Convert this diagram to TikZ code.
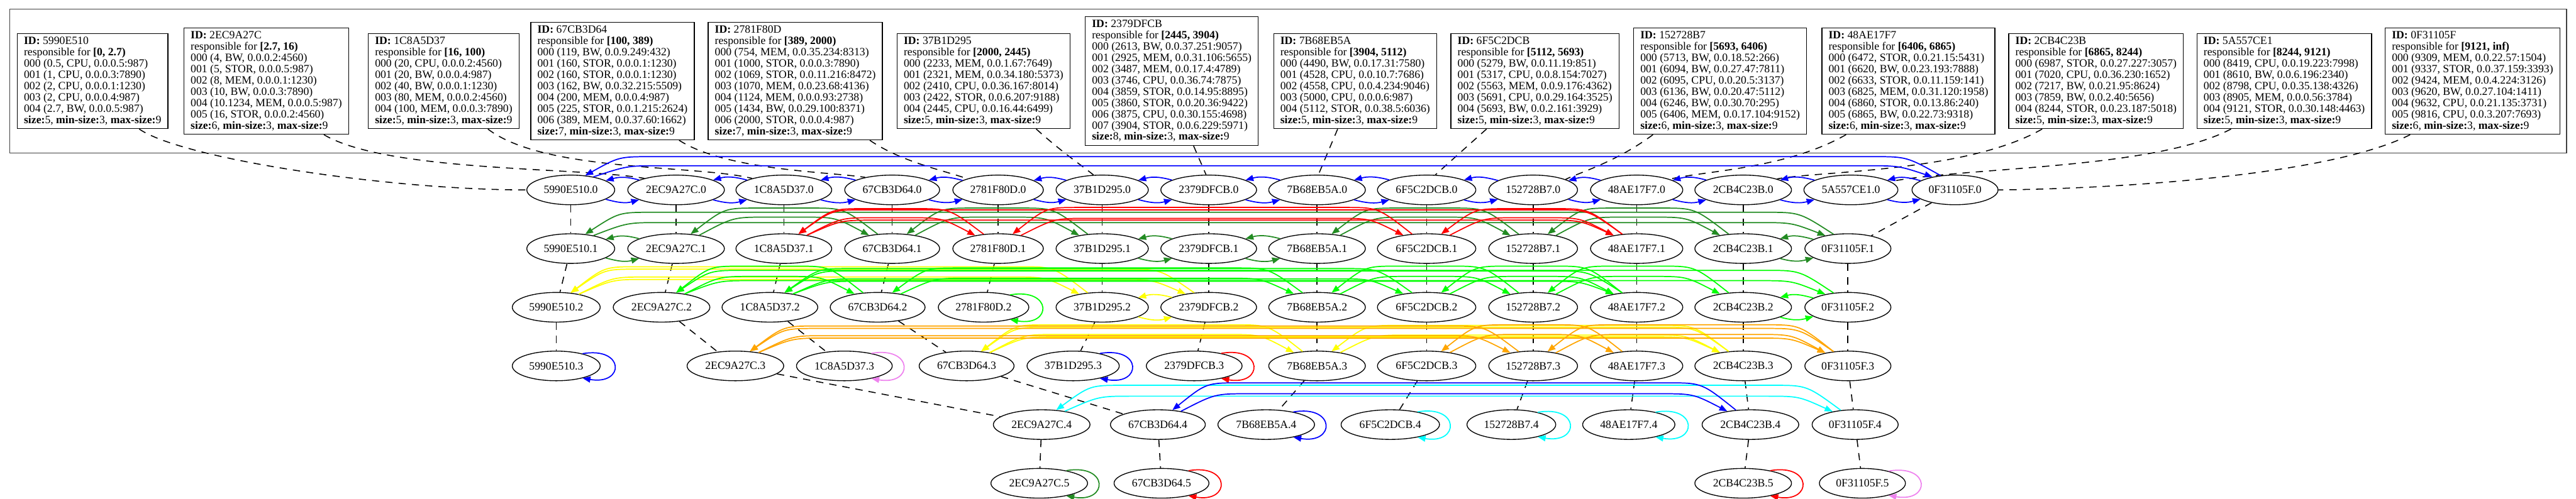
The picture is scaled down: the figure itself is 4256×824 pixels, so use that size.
\documentclass[tikz,border=0pt]{standalone}
\usepackage{fontspec}
\setmainfont{Liberation Serif}
\usetikzlibrary{shapes.geometric,arrows.meta,calc}
\definecolor{cblue}{RGB}{0,0,255}
\definecolor{cred}{RGB}{255,0,0}
\definecolor{cfg}{RGB}{34,139,34}
\definecolor{clime}{RGB}{0,255,0}
\definecolor{cyel}{RGB}{255,255,0}
\definecolor{corange}{RGB}{255,165,0}
\definecolor{ccyan}{RGB}{0,255,255}
\definecolor{cviolet}{RGB}{238,130,238}
\newcommand\gfont{\fontsize{9.2pt}{9.3pt}\selectfont}
\newcommand\hdr[2]{\textbf{ID:} #1\\responsible for \textbf{#2}}
\newcommand\szl[1]{\textbf{size:}#1, \textbf{min-size:}3, \textbf{max-size:}9}
\newcommand\adjpair[3]{%
  \draw[arr,#1] (#2.-15) .. controls +(22,6) and +(-22,6) .. (#3.-165);
  \draw[arr,#1] (#3.165) .. controls +(-22,-6) and +(22,-6) .. (#2.15);}
\newcommand\skp[5]{%
  \draw[arr,#1] let \p1=(#3.135), \p2=(#2.45) in
    (\p1) .. controls (\x1-28pt,{-0.5pt*#4}) .. (\x1-56pt,{-0.5pt*#4})
    -- (\x2+56pt,{-0.5pt*#4}) .. controls (\x2+28pt,{-0.5pt*#4}) .. (\p2);
  \draw[arr,#1] let \p1=(#2.30), \p2=(#3.150) in
    (\p1) .. controls (\x1+28pt,{-0.5pt*#5}) .. (\x1+56pt,{-0.5pt*#5})
    -- (\x2-56pt,{-0.5pt*#5}) .. controls (\x2-28pt,{-0.5pt*#5}) .. (\p2);}
\newcommand\sloop[2]{\draw[arr,#1] (#2.25) .. controls +(70,-12) and +(70,12) .. (#2.-25);}
\begin{document}
\begin{tikzpicture}[x=0.5pt,y=-0.5pt,
  idbox/.style={draw, line width=0.7pt, rectangle, align=left, inner xsep=5.5pt, inner ysep=3pt, font=\gfont},
  gn/.style={draw, line width=0.7pt, ellipse, inner xsep=3.3pt, inner ysep=2pt, minimum height=24.5pt, font=\gfont},
  arr/.style={-{Triangle[length=6.5pt,width=5pt]}, line width=0.9pt},
  dl/.style={line width=0.8pt, dash pattern=on 6pt off 5pt}]
\useasboundingbox (0,0) rectangle (4256,824);
\draw[line width=0.9pt, black!75] (16,15) rectangle (4240,253);

% ---------- ID boxes ----------
\node[idbox] (b1) at (153,134) {\hdr{5990E510}{[0, 2.7)}\\
000 (0.5, CPU, 0.0.0.5:987)\\ 001 (1, CPU, 0.0.0.3:7890)\\ 002 (2, CPU, 0.0.0.1:1230)\\
003 (2, CPU, 0.0.0.4:987)\\ 004 (2.7, BW, 0.0.0.5:987)\\ \szl{5}};
\node[idbox] (b2) at (440,134) {\hdr{2EC9A27C}{[2.7, 16)}\\
000 (4, BW, 0.0.0.2:4560)\\ 001 (5, STOR, 0.0.0.5:987)\\ 002 (8, MEM, 0.0.0.1:1230)\\
003 (10, BW, 0.0.0.3:7890)\\ 004 (10.1234, MEM, 0.0.0.5:987)\\ 005 (16, STOR, 0.0.0.2:4560)\\ \szl{6}};
\node[idbox] (b3) at (733,134) {\hdr{1C8A5D37}{[16, 100)}\\
000 (20, CPU, 0.0.0.2:4560)\\ 001 (20, BW, 0.0.0.4:987)\\ 002 (40, BW, 0.0.0.1:1230)\\
003 (80, MEM, 0.0.0.2:4560)\\ 004 (100, MEM, 0.0.0.3:7890)\\ \szl{5}};
\node[idbox] (b4) at (1012,134) {\hdr{67CB3D64}{[100, 389)}\\
000 (119, BW, 0.0.9.249:432)\\ 001 (160, STOR, 0.0.0.1:1230)\\ 002 (160, STOR, 0.0.0.1:1230)\\
003 (162, BW, 0.0.32.215:5509)\\ 004 (200, MEM, 0.0.0.4:987)\\ 005 (225, STOR, 0.0.1.215:2624)\\
006 (389, MEM, 0.0.37.60:1662)\\ \szl{7}};
\node[idbox] (b5) at (1314,134) {\hdr{2781F80D}{[389, 2000)}\\
000 (754, MEM, 0.0.35.234:8313)\\ 001 (1000, STOR, 0.0.0.3:7890)\\ 002 (1069, STOR, 0.0.11.216:8472)\\
003 (1070, MEM, 0.0.23.68:4136)\\ 004 (1124, MEM, 0.0.0.93:2738)\\ 005 (1434, BW, 0.0.29.100:8371)\\
006 (2000, STOR, 0.0.0.4:987)\\ \szl{7}};
\node[idbox] (b6) at (1625,134) {\hdr{37B1D295}{[2000, 2445)}\\
000 (2233, MEM, 0.0.1.67:7649)\\ 001 (2321, MEM, 0.0.34.180:5373)\\ 002 (2410, CPU, 0.0.36.167:8014)\\
003 (2422, STOR, 0.0.6.207:9188)\\ 004 (2445, CPU, 0.0.16.44:6499)\\ \szl{5}};
\node[idbox] (b7) at (1936,134) {\hdr{2379DFCB}{[2445, 3904)}\\
000 (2613, BW, 0.0.37.251:9057)\\ 001 (2925, MEM, 0.0.31.106:5655)\\ 002 (3487, MEM, 0.0.17.4:4789)\\
003 (3746, CPU, 0.0.36.74:7875)\\ 004 (3859, STOR, 0.0.14.95:8895)\\ 005 (3860, STOR, 0.0.20.36:9422)\\
006 (3875, CPU, 0.0.30.155:4698)\\ 007 (3904, STOR, 0.0.6.229:5971)\\ \szl{8}};
\node[idbox] (b8) at (2239,134) {\hdr{7B68EB5A}{[3904, 5112)}\\
000 (4490, BW, 0.0.17.31:7580)\\ 001 (4528, CPU, 0.0.10.7:7686)\\ 002 (4558, CPU, 0.0.4.234:9046)\\
003 (5000, CPU, 0.0.0.6:987)\\ 004 (5112, STOR, 0.0.38.5:6036)\\ \szl{5}};
\node[idbox] (b9) at (2536,134) {\hdr{6F5C2DCB}{[5112, 5693)}\\
000 (5279, BW, 0.0.11.19:851)\\ 001 (5317, CPU, 0.0.8.154:7027)\\ 002 (5563, MEM, 0.0.9.176:4362)\\
003 (5691, CPU, 0.0.29.164:3525)\\ 004 (5693, BW, 0.0.2.161:3929)\\ \szl{5}};
\node[idbox] (b10) at (2842,134) {\hdr{152728B7}{[5693, 6406)}\\
000 (5713, BW, 0.0.18.52:266)\\ 001 (6094, BW, 0.0.27.47:7811)\\ 002 (6095, CPU, 0.0.20.5:3137)\\
003 (6136, BW, 0.0.20.47:5112)\\ 004 (6246, BW, 0.0.30.70:295)\\ 005 (6406, MEM, 0.0.17.104:9152)\\ \szl{6}};
\node[idbox] (b11) at (3153,134) {\hdr{48AE17F7}{[6406, 6865)}\\
000 (6472, STOR, 0.0.21.15:5431)\\ 001 (6620, BW, 0.0.23.193:7888)\\ 002 (6633, STOR, 0.0.11.159:141)\\
003 (6825, MEM, 0.0.31.120:1958)\\ 004 (6860, STOR, 0.0.13.86:240)\\ 005 (6865, BW, 0.0.22.73:9318)\\ \szl{6}};
\node[idbox] (b12) at (3463,134) {\hdr{2CB4C23B}{[6865, 8244)}\\
000 (6987, STOR, 0.0.27.227:3057)\\ 001 (7020, CPU, 0.0.36.230:1652)\\ 002 (7217, BW, 0.0.21.95:8624)\\
003 (7859, BW, 0.0.2.40:5656)\\ 004 (8244, STOR, 0.0.23.187:5018)\\ \szl{5}};
\node[idbox] (b13) at (3774,134) {\hdr{5A557CE1}{[8244, 9121)}\\
000 (8419, CPU, 0.0.19.223:7998)\\ 001 (8610, BW, 0.0.6.196:2340)\\ 002 (8798, CPU, 0.0.35.138:4326)\\
003 (8905, MEM, 0.0.0.56:3784)\\ 004 (9121, STOR, 0.0.30.148:4463)\\ \szl{5}};
\node[idbox] (b14) at (4085,134) {\hdr{0F31105F}{[9121, inf)}\\
000 (9309, MEM, 0.0.22.57:1504)\\ 001 (9337, STOR, 0.0.37.159:3393)\\ 002 (9424, MEM, 0.0.4.224:3126)\\
003 (9620, BW, 0.0.27.104:1411)\\ 004 (9632, CPU, 0.0.21.135:3731)\\ 005 (9816, CPU, 0.0.3.207:7693)\\ \szl{6}};

% ---------- row 0 ----------
\node[gn] (a59-0) at (943,314) {5990E510.0};
\node[gn] (a2E-0) at (1117,314) {2EC9A27C.0};
\node[gn] (a1C-0) at (1295,314) {1C8A5D37.0};
\node[gn] (a67-0) at (1474,314) {67CB3D64.0};
\node[gn] (a27-0) at (1649,314) {2781F80D.0};
\node[gn] (a37-0) at (1821,314) {37B1D295.0};
\node[gn] (a23-0) at (1997,314) {2379DFCB.0};
\node[gn] (a7B-0) at (2176,314) {7B68EB5A.0};
\node[gn] (a6F-0) at (2357,314) {6F5C2DCB.0};
\node[gn] (a15-0) at (2533,314) {152728B7.0};
\node[gn] (a48-0) at (2704,314) {48AE17F7.0};
\node[gn] (a2C-0) at (2880,314) {2CB4C23B.0};
\node[gn] (a5A-0) at (3058,314) {5A557CE1.0};
\node[gn] (a0F-0) at (3230,314) {0F31105F.0};
% ---------- row 1 ----------
\node[gn] (a59-1) at (943,411) {5990E510.1};
\node[gn] (a2E-1) at (1117,411) {2EC9A27C.1};
\node[gn] (a1C-1) at (1295,411) {1C8A5D37.1};
\node[gn] (a67-1) at (1474,411) {67CB3D64.1};
\node[gn] (a27-1) at (1649,411) {2781F80D.1};
\node[gn] (a37-1) at (1821,411) {37B1D295.1};
\node[gn] (a23-1) at (1997,411) {2379DFCB.1};
\node[gn] (a7B-1) at (2176,411) {7B68EB5A.1};
\node[gn] (a6F-1) at (2357,411) {6F5C2DCB.1};
\node[gn] (a15-1) at (2533,411) {152728B7.1};
\node[gn] (a48-1) at (2704,411) {48AE17F7.1};
\node[gn] (a2C-1) at (2880,411) {2CB4C23B.1};
\node[gn] (a0F-1) at (3053,411) {0F31105F.1};
% ---------- row 2 ----------
\node[gn] (a59-2) at (919,508) {5990E510.2};
\node[gn] (a2E-2) at (1093,508) {2EC9A27C.2};
\node[gn] (a1C-2) at (1272,508) {1C8A5D37.2};
\node[gn] (a67-2) at (1450,508) {67CB3D64.2};
\node[gn] (a27-2) at (1625,508) {2781F80D.2};
\node[gn] (a37-2) at (1821,508) {37B1D295.2};
\node[gn] (a23-2) at (1997,508) {2379DFCB.2};
\node[gn] (a7B-2) at (2176,508) {7B68EB5A.2};
\node[gn] (a6F-2) at (2357,508) {6F5C2DCB.2};
\node[gn] (a15-2) at (2533,508) {152728B7.2};
\node[gn] (a48-2) at (2704,508) {48AE17F7.2};
\node[gn] (a2C-2) at (2880,508) {2CB4C23B.2};
\node[gn] (a0F-2) at (3053,508) {0F31105F.2};
% ---------- row 3 ----------
\node[gn] (a59-3) at (919,605) {5990E510.3};
\node[gn] (a2E-3) at (1215,605) {2EC9A27C.3};
\node[gn] (a1C-3) at (1395,605) {1C8A5D37.3};
\node[gn] (a67-3) at (1597,605) {67CB3D64.3};
\node[gn] (a37-3) at (1773,605) {37B1D295.3};
\node[gn] (a23-3) at (1973,605) {2379DFCB.3};
\node[gn] (a7B-3) at (2176,605) {7B68EB5A.3};
\node[gn] (a6F-3) at (2357,605) {6F5C2DCB.3};
\node[gn] (a15-3) at (2533,605) {152728B7.3};
\node[gn] (a48-3) at (2704,605) {48AE17F7.3};
\node[gn] (a2C-3) at (2880,605) {2CB4C23B.3};
\node[gn] (a0F-3) at (3053,605) {0F31105F.3};
% ---------- row 4 ----------
\node[gn] (a2E-4) at (1721,702) {2EC9A27C.4};
\node[gn] (a67-4) at (1913,702) {67CB3D64.4};
\node[gn] (a7B-4) at (2092,702) {7B68EB5A.4};
\node[gn] (a6F-4) at (2297,702) {6F5C2DCB.4};
\node[gn] (a15-4) at (2497,702) {152728B7.4};
\node[gn] (a48-4) at (2691,702) {48AE17F7.4};
\node[gn] (a2C-4) at (2892,702) {2CB4C23B.4};
\node[gn] (a0F-4) at (3065,702) {0F31105F.4};
% ---------- row 5 ----------
\node[gn] (a2E-5) at (1717,799) {2EC9A27C.5};
\node[gn] (a67-5) at (1919,799) {67CB3D64.5};
\node[gn] (a2C-5) at (2880,799) {2CB4C23B.5};
\node[gn] (a0F-5) at (3077,799) {0F31105F.5};

% ---------- box to level-0 links ----------
\draw[dl] ([xshift=38.5pt]b1.south) .. controls (300,262) and (640,314) .. (a59-0.west);
\draw[dl] ([xshift=47.5pt]b2.south) .. controls (640,285) and (960,276) .. (a2E-0.160);
\draw[dl] ([xshift=36.5pt]b3.south) .. controls (900,285) and (1150,272) .. (a1C-0.160);
\draw[dl] ([xshift=55pt]b4.south) .. controls (1200,282) and (1370,284) .. (a67-0.155);
\draw[dl] ([xshift=61.5pt]b5.south) .. controls (1490,268) and (1560,282) .. (a27-0.160);
\draw[dl] ([xshift=43.5pt]b6.south) .. controls (1755,252) and (1785,272) .. (a37-0.120);
\draw[dl] ([xshift=18pt]b7.south) -- (a23-0.100);
\draw[dl] ([xshift=-14.5pt]b8.south) -- (a7B-0.85);
\draw[dl] ([xshift=-40pt]b9.south) -- (a6F-0.60);
\draw[dl] ([xshift=-55.5pt]b10.south) .. controls (2670,268) and (2610,285) .. (a15-0.18);
\draw[dl] ([xshift=-51.5pt]b11.south) .. controls (2950,280) and (2810,283) .. (a48-0.18);
\draw[dl] ([xshift=-44.5pt]b12.south) .. controls (3250,285) and (3000,283) .. (a2C-0.18);
\draw[dl] ([xshift=-44pt]b13.south) .. controls (3560,280) and (3250,276) .. (a5A-0.12);
\draw[dl] ([xshift=-51.5pt]b14.south) .. controls (3850,290) and (3500,312) .. (a0F-0.east);

% ---------- vertical (dashed) chains ----------
\draw[dl] (a59-0) -- (a59-1); \draw[dl] (a59-1) -- (a59-2); \draw[dl] (a59-2) -- (a59-3);
\draw[dl] (a2E-0) -- (a2E-1); \draw[dl] (a2E-1) -- (a2E-2); \draw[dl] (a2E-2) -- (a2E-3);
\draw[dl] (a2E-3) -- (a2E-4); \draw[dl] (a2E-4) -- (a2E-5);
\draw[dl] (a1C-0) -- (a1C-1); \draw[dl] (a1C-1) -- (a1C-2); \draw[dl] (a1C-2) -- (a1C-3);
\draw[dl] (a67-0) -- (a67-1); \draw[dl] (a67-1) -- (a67-2); \draw[dl] (a67-2) -- (a67-3);
\draw[dl] (a67-3) -- (a67-4); \draw[dl] (a67-4) -- (a67-5);
\draw[dl] (a27-0) -- (a27-1); \draw[dl] (a27-1) -- (a27-2);
\draw[dl] (a37-0) -- (a37-1); \draw[dl] (a37-1) -- (a37-2); \draw[dl] (a37-2) -- (a37-3);
\draw[dl] (a23-0) -- (a23-1); \draw[dl] (a23-1) -- (a23-2); \draw[dl] (a23-2) -- (a23-3);
\draw[dl] (a7B-0) -- (a7B-1); \draw[dl] (a7B-1) -- (a7B-2); \draw[dl] (a7B-2) -- (a7B-3); \draw[dl] (a7B-3) -- (a7B-4);
\draw[dl] (a6F-0) -- (a6F-1); \draw[dl] (a6F-1) -- (a6F-2); \draw[dl] (a6F-2) -- (a6F-3); \draw[dl] (a6F-3) -- (a6F-4);
\draw[dl] (a15-0) -- (a15-1); \draw[dl] (a15-1) -- (a15-2); \draw[dl] (a15-2) -- (a15-3); \draw[dl] (a15-3) -- (a15-4);
\draw[dl] (a48-0) -- (a48-1); \draw[dl] (a48-1) -- (a48-2); \draw[dl] (a48-2) -- (a48-3); \draw[dl] (a48-3) -- (a48-4);
\draw[dl] (a2C-0) -- (a2C-1); \draw[dl] (a2C-1) -- (a2C-2); \draw[dl] (a2C-2) -- (a2C-3);
\draw[dl] (a2C-3) -- (a2C-4); \draw[dl] (a2C-4) -- (a2C-5);
\draw[dl] (a0F-0) -- (a0F-1); \draw[dl] (a0F-1) -- (a0F-2); \draw[dl] (a0F-2) -- (a0F-3);
\draw[dl] (a0F-3) -- (a0F-4); \draw[dl] (a0F-4) -- (a0F-5);

% ---------- level 0 (blue ring) ----------
\adjpair{cblue}{a59-0}{a2E-0}
\adjpair{cblue}{a2E-0}{a1C-0}
\adjpair{cblue}{a1C-0}{a67-0}
\adjpair{cblue}{a67-0}{a27-0}
\adjpair{cblue}{a27-0}{a37-0}
\adjpair{cblue}{a37-0}{a23-0}
\adjpair{cblue}{a23-0}{a7B-0}
\adjpair{cblue}{a7B-0}{a6F-0}
\adjpair{cblue}{a6F-0}{a15-0}
\adjpair{cblue}{a15-0}{a48-0}
\adjpair{cblue}{a48-0}{a2C-0}
\adjpair{cblue}{a2C-0}{a5A-0}
\adjpair{cblue}{a5A-0}{a0F-0}
\skp{cblue}{a59-0}{a0F-0}{259}{274}

% ---------- level 1 ----------
\adjpair{cfg}{a59-1}{a2E-1}
\adjpair{cfg}{a37-1}{a23-1}
\adjpair{cfg}{a23-1}{a7B-1}
\adjpair{cfg}{a2C-1}{a0F-1}
\skp{cfg}{a2E-1}{a67-1}{344}{359}
\skp{cfg}{a67-1}{a37-1}{344}{359}
\skp{cfg}{a7B-1}{a15-1}{344}{359}
\skp{cfg}{a15-1}{a2C-1}{344}{359}
\skp{cfg}{a59-1}{a0F-1}{351}{368}
\skp{cred}{a1C-1}{a27-1}{345}{360}
\skp{cred}{a27-1}{a6F-1}{343}{361}
\skp{cred}{a6F-1}{a48-1}{345}{360}
\skp{cred}{a1C-1}{a48-1}{347}{364}

% ---------- level 2 ----------
\adjpair{cyel}{a37-2}{a23-2}
\skp{cyel}{a59-2}{a37-2}{441}{458}
\skp{cyel}{a59-2}{a23-2}{445}{462}
\adjpair{clime}{a2C-2}{a0F-2}
\skp{clime}{a2E-2}{a67-2}{440}{457}
\skp{clime}{a67-2}{a7B-2}{443}{460}
\skp{clime}{a7B-2}{a15-2}{440}{457}
\skp{clime}{a15-2}{a2C-2}{440}{457}
\skp{clime}{a2E-2}{a0F-2}{447}{464}
\skp{clime}{a1C-2}{a6F-2}{444}{461}
\skp{clime}{a6F-2}{a48-2}{440}{457}
\skp{clime}{a1C-2}{a48-2}{448}{465}
\sloop{clime}{a27-2}

% ---------- level 3 ----------
\sloop{cblue}{a59-3}
\sloop{cviolet}{a1C-3}
\sloop{cblue}{a37-3}
\sloop{cred}{a23-3}
\skp{cyel}{a67-3}{a7B-3}{537}{553}
\skp{cyel}{a7B-3}{a2C-3}{538}{554}
\skp{cyel}{a67-3}{a2C-3}{541}{557}
\skp{corange}{a2E-3}{a15-3}{539}{555}
\skp{corange}{a15-3}{a0F-3}{537}{553}
\skp{corange}{a2E-3}{a0F-3}{543}{559}
\skp{corange}{a6F-3}{a48-3}{537}{553}

% ---------- level 4 ----------
\skp{ccyan}{a2E-4}{a0F-4}{637}{655}
\skp{cblue}{a67-4}{a2C-4}{633}{651}
\sloop{cblue}{a7B-4}
\sloop{ccyan}{a6F-4}
\sloop{ccyan}{a15-4}
\sloop{ccyan}{a48-4}

% ---------- level 5 ----------
\sloop{cfg}{a2E-5}
\sloop{cred}{a67-5}
\sloop{cred}{a2C-5}
\sloop{cviolet}{a0F-5}
\end{tikzpicture}
\end{document}
